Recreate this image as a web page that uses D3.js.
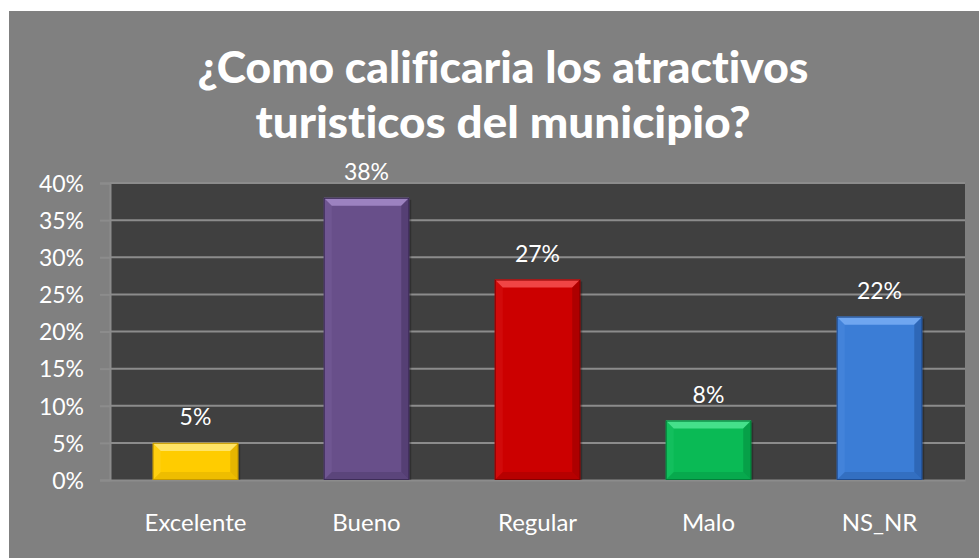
<!DOCTYPE html>
<html><head><meta charset="utf-8">
<script src="https://cdn.jsdelivr.net/npm/d3@7"></script>
<style>html,body{margin:0;padding:0;background:#fff;}svg{display:block;}text{font-variant-ligatures:none;font-feature-settings:"liga" 0;}</style>
</head><body>
<svg id="c" width="979" height="558"></svg>
<script>
const categories = ["Excelente", "Bueno", "Regular", "Malo", "NS_NR"];
const values = [0.05, 0.38, 0.27, 0.08, 0.22];
const yTicks = [0, 0.05, 0.10, 0.15, 0.20, 0.25, 0.30, 0.35, 0.40];
const titleLines = ["¿Como calificaria los atractivos", "turisticos del municipio?"];

const barColors = ["#FFCC00", "#684F8A", "#CC0000", "#0ABA55", "#3B7DD6"];
const lightColors = ["#FFE466", "#9C82C0", "#F04545", "#45E08A", "#6FA6F0"];
const darkColors = ["#C79A00", "#3E2D58", "#880000", "#03803A", "#204E93"];

const svg = d3.select("#c");
const W = 979, H = 558;
svg.append("rect").attr("x", 9).attr("y", 11).attr("width", W - 9).attr("height", H - 11).attr("fill", "#808080");

const pL = 110, pR = 965, pT = 183, pB = 480;
const x = d3.scaleBand().domain(categories).range([pL, pR]).paddingInner(0.5).paddingOuter(0.25);
const y = d3.scaleLinear().domain([0, 0.4]).range([pB, pT]);

svg.append("rect").attr("x", pL).attr("y", pT).attr("width", pR - pL).attr("height", pB - pT).attr("fill", "#404040");

// gridlines
svg.append("g").selectAll("line").data(yTicks.filter(d => d > 0)).join("line")
  .attr("x1", pL).attr("x2", pR).attr("y1", d => y(d)).attr("y2", d => y(d))
  .attr("stroke", "#8C8C8C").attr("stroke-width", 2);

// y axis
const yAxis = d3.axisLeft(y).tickValues(yTicks).tickFormat(d3.format(".0%")).tickSize(10).tickPadding(16);
const ga = svg.append("g").attr("transform", `translate(${pL},0)`).call(yAxis);
ga.select(".domain").attr("stroke", "#8C8C8C").attr("stroke-width", 2);
ga.selectAll(".tick line").attr("stroke", "#8C8C8C").attr("stroke-width", 2);
ga.selectAll(".tick text").attr("fill", "#fff").attr("font-family", "Lato, sans-serif").attr("font-size", 23).attr("dy", "0.36em");

// x axis
const xAxis = d3.axisBottom(x).tickSize(0).tickPadding(34);
const gx = svg.append("g").attr("transform", `translate(0,${pB})`).call(xAxis);
gx.select(".domain").attr("stroke", "#8C8C8C").attr("stroke-width", 2);
gx.selectAll(".tick text").attr("fill", "#fff").attr("font-family", "Lato, sans-serif").attr("font-size", 24);

// bars with bevel
const b = 8;
const bars = svg.append("g").selectAll("g").data(categories).join("g");
bars.each(function (c, i) {
  const g = d3.select(this);
  const x0 = x(c), x1 = x(c) + x.bandwidth();
  const y0 = y(values[i]), y1 = y(0);
  const pts = a => a.map(p => p.join(",")).join(" ");
  g.append("rect").attr("x", x0 + 2).attr("y", y0 + 2).attr("width", x1 - x0).attr("height", y1 - y0 - 2)
    .attr("fill", "#000").attr("opacity", 0.25);
  g.append("rect").attr("x", x0).attr("y", y0).attr("width", x1 - x0).attr("height", y1 - y0).attr("fill", barColors[i]);
  g.append("polygon").attr("points", pts([[x0, y0], [x1, y0], [x1 - b, y0 + b], [x0 + b, y0 + b]])).attr("fill", lightColors[i]);
  g.append("polygon").attr("points", pts([[x1, y0], [x1, y1], [x1 - b, y1 - b], [x1 - b, y0 + b]])).attr("fill", darkColors[i]).attr("opacity", 0.45);
  g.append("polygon").attr("points", pts([[x0, y1], [x1, y1], [x1 - b, y1 - b], [x0 + b, y1 - b]])).attr("fill", darkColors[i]).attr("opacity", 0.3);
  g.append("polygon").attr("points", pts([[x0, y0], [x0 + b, y0 + b], [x0 + b, y1 - b], [x0, y1]])).attr("fill", lightColors[i]).attr("opacity", 0.15);
  g.append("rect").attr("x", x0 + 0.5).attr("y", y0 + 0.5).attr("width", x1 - x0 - 1).attr("height", y1 - y0 - 1)
    .attr("fill", "none").attr("stroke", darkColors[i]).attr("stroke-width", 1);
});

// value labels
svg.append("g").selectAll("text").data(categories).join("text")
  .attr("x", c => x(c) + x.bandwidth() / 2)
  .attr("y", (c, i) => y(values[i]) - 18)
  .attr("text-anchor", "middle").attr("fill", "#fff")
  .attr("font-family", "Lato, sans-serif").attr("font-size", 23)
  .text((c, i) => d3.format(".0%")(values[i]));

// title
const tl = [611, 495];
svg.append("g").selectAll("text").data(titleLines).join("text")
  .attr("x", 503).attr("y", (d, i) => 83 + i * 55)
  .attr("text-anchor", "middle").attr("fill", "#fff")
  .attr("font-family", "Lato, sans-serif").attr("font-weight", 900).attr("font-size", 44)
  .attr("textLength", (d, i) => tl[i]).attr("lengthAdjust", "spacingAndGlyphs")
  .text(d => d);
</script>
</body></html>
